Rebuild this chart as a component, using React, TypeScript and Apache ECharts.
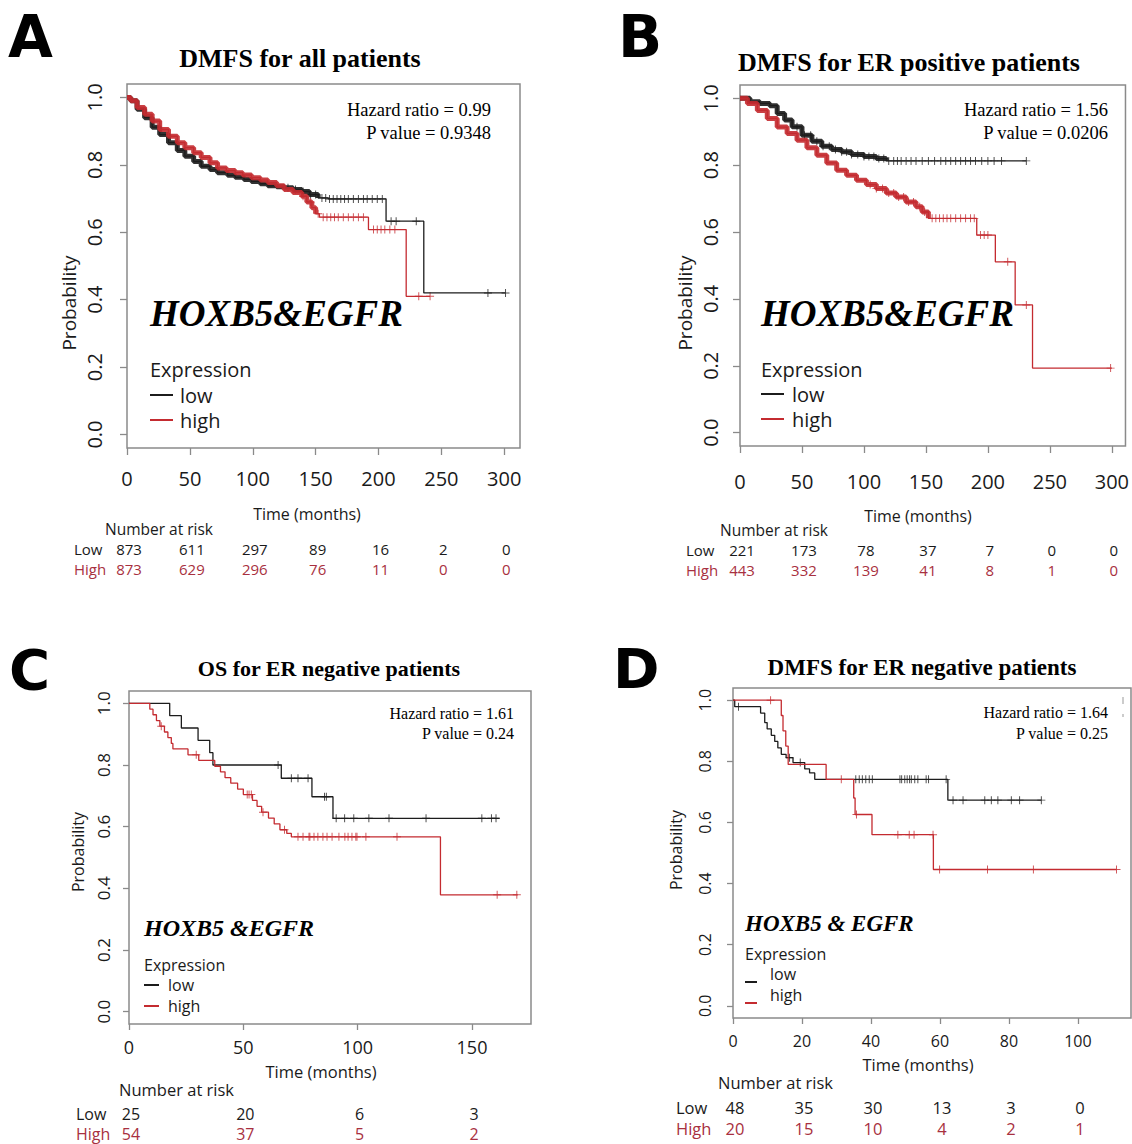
import React, { useEffect, useRef } from "react";
import * as echarts from "echarts";

// ===== Panel A: DMFS for all patients =====
const lowA_t = [0, 3, 8, 14, 20, 26, 33, 40, 46, 53, 59, 66, 72, 80, 86, 93, 99, 106, 112, 119, 125, 132, 139, 145, 152, 160, 206, 236, 301];
const lowA_s = [1.0, 0.99, 0.965, 0.94, 0.912, 0.89, 0.866, 0.843, 0.826, 0.81, 0.796, 0.786, 0.777, 0.769, 0.763, 0.757, 0.751, 0.744, 0.738, 0.735, 0.732, 0.727, 0.721, 0.712, 0.702, 0.699, 0.633, 0.42, 0.42];
const censA_low = [128, 134, 140, 146, 150, 155, 158, 161, 164, 167, 170, 173, 176, 180, 184, 188, 191, 195, 199, 203, 210, 214, 230, 287, 301];
const highA_t = [0, 3, 8, 14, 20, 26, 33, 40, 46, 53, 59, 66, 72, 79, 86, 92, 99, 106, 112, 119, 125, 132, 139, 143, 147, 150, 153, 192, 222, 241];
const highA_s = [1.0, 0.99, 0.97, 0.95, 0.93, 0.905, 0.885, 0.866, 0.851, 0.836, 0.822, 0.806, 0.791, 0.783, 0.777, 0.77, 0.762, 0.755, 0.748, 0.738, 0.727, 0.718, 0.707, 0.69, 0.673, 0.655, 0.645, 0.608, 0.41, 0.41];
const censA_high = [140, 146, 152, 156, 159, 162, 165, 168, 172, 176, 180, 184, 188, 196, 199, 202, 205, 209, 213, 232, 241];
const riskA_times = [0, 50, 100, 150, 200, 250, 300];
const riskA_low = [873, 611, 297, 89, 16, 2, 0];
const riskA_high = [873, 629, 296, 76, 11, 0, 0];

// ===== Panel B: DMFS for ER positive patients =====
const lowB_t = [0, 8, 16, 24, 30, 36, 42, 50, 58, 66, 74, 82, 90, 100, 110, 118, 231];
const lowB_s = [1.0, 0.99, 0.985, 0.978, 0.955, 0.935, 0.915, 0.89, 0.872, 0.857, 0.847, 0.84, 0.832, 0.826, 0.82, 0.813, 0.813];
const censB_low = [46, 52, 57, 62, 67, 72, 77, 82, 86, 90, 95, 100, 104, 108, 112, 116, 120, 124, 127, 130, 134, 138, 142, 147, 152, 157, 162, 166, 170, 174, 178, 182, 186, 190, 195, 200, 205, 211, 231];
const highB_t = [0, 6, 14, 22, 30, 38, 46, 54, 62, 70, 78, 86, 94, 102, 110, 118, 126, 134, 142, 147, 152, 191, 206, 222, 236, 300];
const highB_s = [1.0, 0.985, 0.964, 0.94, 0.914, 0.895, 0.875, 0.852, 0.83, 0.807, 0.785, 0.77, 0.755, 0.742, 0.73, 0.717, 0.705, 0.69, 0.676, 0.66, 0.641, 0.591, 0.511, 0.382, 0.193, 0.193];
const censB_high = [105, 110, 115, 120, 124, 128, 132, 136, 140, 145, 149, 155, 158, 161, 164, 167, 170, 174, 178, 182, 186, 189, 194, 197, 200, 216, 231, 299];
const riskB_times = [0, 50, 100, 150, 200, 250, 300];
const riskB_low = [221, 173, 78, 37, 7, 0, 0];
const riskB_high = [443, 332, 139, 41, 8, 1, 0];

// ===== Panel C: OS for ER negative patients =====
const lowC_t = [0, 17.8, 22.9, 30.2, 35.3, 36.7, 66.6, 80, 89.2, 162];
const lowC_s = [1, 0.96, 0.92, 0.88, 0.84, 0.8, 0.757, 0.697, 0.627, 0.627];
const censC_low = [65.2, 71, 73.9, 78.3, 85.5, 86.3, 90.6, 94.3, 98.3, 104.9, 113.7, 129.9, 154.3, 158.5, 160.5];
const highC_t = [0, 9.1, 10.5, 12, 13.5, 15.5, 17, 18.5, 19.2, 25.8, 30.5, 37.5, 40, 42, 44.5, 47.5, 50, 54, 56, 58, 61, 63.5, 66, 69, 71, 136.2, 170];
const highC_s = [1, 0.981, 0.963, 0.944, 0.926, 0.907, 0.889, 0.87, 0.852, 0.833, 0.815, 0.796, 0.778, 0.759, 0.741, 0.722, 0.704, 0.685, 0.666, 0.647, 0.628, 0.609, 0.59, 0.578, 0.567, 0.379, 0.379];
const censC_high = [14.1, 29.4, 51.7, 52.5, 53.5, 58.6, 68, 73.9, 76.1, 78.7, 79.1, 80.9, 82.6, 84.8, 86.6, 88.8, 91.8, 94.4, 95.8, 97.5, 99.2, 99.7, 103.6, 117.2, 161, 169.6];
const riskC_times = [0, 50, 100, 150];
const riskC_low = [25, 20, 6, 3];
const riskC_high = [54, 37, 5, 2];

// ===== Panel D: DMFS for ER negative patients =====
const lowD_t = [0, 0.5, 8, 9.2, 9.9, 11.1, 12.1, 13, 14, 15.4, 17.4, 20.8, 22.2, 23.7, 62.3, 89.4];
const lowD_s = [1, 0.979, 0.958, 0.927, 0.906, 0.885, 0.865, 0.844, 0.823, 0.812, 0.796, 0.775, 0.762, 0.741, 0.673, 0.673];
const censD_low = [1.6, 16.4, 19.5, 35.6, 36.6, 37.5, 38.5, 39.5, 40.4, 48.4, 48.9, 49.8, 50.5, 51.2, 51.7, 52.7, 53.6, 56, 56.7, 61.8, 63.8, 66.7, 73, 74.9, 76.8, 80.7, 83.1, 89.4];
const highD_t = [0, 14, 14.5, 15.3, 16, 27, 35, 35.4, 40.3, 58.1, 111.2];
const highD_s = [1, 0.95, 0.9, 0.85, 0.79, 0.741, 0.68, 0.626, 0.56, 0.446, 0.446];
const censD_high = [10.9, 31.4, 35.8, 47.8, 51.1, 52.5, 58, 59.9, 73.8, 87.1, 111.2];
const riskD_times = [0, 20, 40, 60, 80, 100];
const riskD_low = [48, 35, 30, 13, 3, 0];
const riskD_high = [20, 15, 10, 4, 2, 1];

const yTicks = [0, 0.2, 0.4, 0.6, 0.8, 1.0];

const RED = "#c42b30";
const BLACK = "#1c1c1c";
const BOX = "#8a8a8a";
const TXT = "#1a1a1a";
const RISK_RED = "#a83040";
const SANS = "'Open Sans', 'Noto Sans', 'DejaVu Sans', sans-serif";
const SERIF = "'Liberation Serif', 'DejaVu Serif', serif";
const LETTER = "'DejaVu Sans', 'Open Sans', sans-serif";
const CROSS = "path://M0,4.4H10V5.6H0Z M4.4,0H5.6V10H4.4Z";

const PANELS = [
  {
    letter: "A", title: "DMFS for all patients", hr: "Hazard ratio = 0.99", pv: "P value = 0.9348", gene: "HOXB5&EGFR",
    low: { t: lowA_t, s: lowA_s, c: censA_low, band: 152 },
    high: { t: highA_t, s: highA_s, c: censA_high, band: 150 },
    xMax: 312.5, xTicks: [0, 50, 100, 150, 200, 250, 300],
    risk: { times: riskA_times, low: riskA_low, high: riskA_high },
    L: {
      box: [127, 84, 393, 364], tickLen: 7, xFont: 20, yFont: 20, xMargin: 20, yMargin: 23, mark: 8,
      letter: [8, 37, 58], title: [300, 58, 26], hr: [491, 110, 133, 18.5], gene: [150, 313, 37],
      expr: { x: 150, y: 369, yl: 395, yh: 420, size: 20, len: 23, tx: 180, dy: 0 },
      time: [307, 514, 16], prob: [69, 303, 19], nar: [105, 529, 15.5], rows: [74, 549, 569, 15],
    },
  },
  {
    letter: "B", title: "DMFS for ER positive patients", hr: "Hazard ratio = 1.56", pv: "P value = 0.0206", gene: "HOXB5&EGFR",
    low: { t: lowB_t, s: lowB_s, c: censB_low, band: 120 },
    high: { t: highB_t, s: highB_s, c: censB_high, band: 152 },
    xMax: 311, xTicks: [0, 50, 100, 150, 200, 250, 300],
    risk: { times: riskB_times, low: riskB_low, high: riskB_high },
    L: {
      box: [740, 85, 389, 361], tickLen: 7, xFont: 20, yFont: 20, xMargin: 25, yMargin: 20, mark: 8,
      letter: [618, 37, 58], title: [909, 62, 26], hr: [1108, 110, 133, 18.5], gene: [761, 313, 37],
      expr: { x: 761, y: 369, yl: 394, yh: 419, size: 20, len: 23, tx: 792, dy: 0 },
      time: [918, 516, 16], prob: [685, 303, 19], nar: [720, 530, 15.5], rows: [686, 550, 570, 15],
    },
  },
  {
    letter: "C", title: "OS for ER negative patients", hr: "Hazard ratio = 1.61", pv: "P value = 0.24", gene: "HOXB5 &EGFR",
    low: { t: lowC_t, s: lowC_s, c: censC_low, band: -1 },
    high: { t: highC_t, s: highC_s, c: censC_high, band: -1 },
    xMax: 175.8, xTicks: [0, 50, 100, 150],
    risk: { times: riskC_times, low: riskC_low, high: riskC_high },
    L: {
      box: [129, 691, 402, 333], tickLen: 6, xFont: 18, yFont: 17, xMargin: 14, yMargin: 17, mark: 8,
      letter: [9, 669, 56], title: [329, 668, 22], hr: [514, 713, 733, 16], gene: [144, 928, 24],
      expr: { x: 144, y: 965, yl: 985, yh: 1006, size: 16, len: 15, tx: 168, dy: 0 },
      time: [321, 1071, 16.5], prob: [78, 852, 16], nar: [119, 1089, 16.5], rows: [76, 1114, 1134, 16],
    },
  },
  {
    letter: "D", title: "DMFS for ER negative patients", hr: "Hazard ratio = 1.64", pv: "P value = 0.25", gene: "HOXB5 & EGFR",
    low: { t: lowD_t, s: lowD_s, c: censD_low, band: -1 },
    high: { t: highD_t, s: highD_s, c: censD_high, band: -1 },
    xMax: 115.4, xTicks: [0, 20, 40, 60, 80, 100],
    risk: { times: riskD_times, low: riskD_low, high: riskD_high },
    L: {
      box: [733, 688, 398, 330], tickLen: 6, xFont: 16, yFont: 16, xMargin: 15, yMargin: 20, mark: 8,
      letter: [613, 668, 56], title: [922, 667, 23], hr: [1108, 712, 733, 16], gene: [745, 923, 23],
      expr: { x: 745, y: 954, yl: 974, yh: 995, size: 16, len: 12, tx: 770, dy: 8 },
      time: [918, 1064, 16.5], prob: [676, 850, 16], nar: [718, 1082, 16.5], rows: [676, 1107, 1128, 16.5],
    },
  },
];

function stepAt(ts: number[], ss: number[], t: number) {
  let v = ss[0];
  for (let i = 0; i < ts.length; i++) if (ts[i] <= t) v = ss[i];
  return v;
}

function T(x: number, y: number, text: string, o: any) {
  return {
    type: "text", x, y, rotation: o.rotate || 0, silent: true,
    style: {
      text, fill: o.fill || TXT, fontSize: o.size, fontFamily: o.family || SANS,
      fontWeight: o.weight || "normal", fontStyle: o.style || "normal", lineHeight: o.size,
      textAlign: o.align || "left", textVerticalAlign: "middle",
    },
  };
}
function Ln(x1: number, y1: number, x2: number, y2: number, stroke: string, w: number) {
  return { type: "line", silent: true, shape: { x1, y1, x2, y2 }, style: { stroke, lineWidth: w } };
}

export default function App() {
  const ref = useRef<HTMLDivElement>(null);
  useEffect(() => {
    if (!ref.current) return;
    const chart = echarts.init(ref.current, undefined, { renderer: "svg" });

    const grid: any[] = [];
    const xAxis: any[] = [];
    const yAxis: any[] = [];
    const series: any[] = [];

    PANELS.forEach((p, i) => {
      const L = p.L;
      grid.push({ left: L.box[0], top: L.box[1], width: L.box[2], height: L.box[3], show: true, borderColor: BOX, borderWidth: 1.5, backgroundColor: "transparent" });
      xAxis.push({
        type: "value", gridIndex: i, min: 0, max: p.xMax, position: "bottom",
        axisLine: { show: false, onZero: false },
        axisTick: { show: true, customValues: p.xTicks, length: L.tickLen, lineStyle: { color: BOX, width: 1.3 } },
        axisLabel: { show: true, customValues: p.xTicks, fontSize: L.xFont, color: TXT, fontFamily: SANS, margin: L.xMargin },
        splitLine: { show: false },
      });
      yAxis.push({
        type: "value", gridIndex: i, min: -0.04, max: 1.04, position: "left",
        axisLine: { show: false, onZero: false },
        axisTick: { show: true, customValues: yTicks, length: L.tickLen, lineStyle: { color: BOX, width: 1.3 } },
        axisLabel: { show: true, customValues: yTicks, fontSize: L.yFont, color: TXT, fontFamily: SANS, margin: L.yMargin, rotate: 90, formatter: (v: number) => Number(v).toFixed(1) },
        splitLine: { show: false },
      });
      [["low", BLACK], ["high", RED]].forEach(([k, col]) => {
        const g = (p as any)[k];
        const pts = g.t.map((t: number, j: number) => [t, g.s[j]]);
        if (g.band > 0) {
          series.push({
            type: "line", xAxisIndex: i, yAxisIndex: i, step: "end", showSymbol: false, silent: true,
            lineStyle: { color: col, width: 5, opacity: 0.9 },
            data: pts.filter((d: number[]) => d[0] <= g.band),
          });
        }
        series.push({
          type: "line", xAxisIndex: i, yAxisIndex: i, step: "end", showSymbol: false, silent: true,
          lineStyle: { color: col, width: 1.3 }, data: pts,
        });
        series.push({
          type: "scatter", xAxisIndex: i, yAxisIndex: i, symbol: CROSS, symbolSize: L.mark, silent: true,
          itemStyle: { color: col }, data: g.c.map((c: number) => [c, stepAt(g.t, g.s, c)]),
        });
      });
    });

    chart.setOption({ animation: false, backgroundColor: "#ffffff", grid, xAxis, yAxis, series });

    const els: any[] = [];
    PANELS.forEach((p, i) => {
      const L = p.L;
      els.push(T(L.letter[0], L.letter[1], p.letter, { size: L.letter[2], family: LETTER, weight: "bold", fill: "#000" }));
      els.push(T(L.title[0], L.title[1], p.title, { size: L.title[2], family: SERIF, weight: "bold", align: "center", fill: "#000" }));
      els.push(T(L.hr[0], L.hr[1], p.hr, { size: L.hr[3], family: SERIF, align: "right", fill: "#000" }));
      els.push(T(L.hr[0], L.hr[2], p.pv, { size: L.hr[3], family: SERIF, align: "right", fill: "#000" }));
      els.push(T(L.gene[0], L.gene[1], p.gene, { size: L.gene[2], family: SERIF, weight: "bold", style: "italic", fill: "#000" }));
      const e = L.expr;
      els.push(T(e.x, e.y, "Expression", { size: e.size }));
      els.push(Ln(e.x, e.yl + e.dy, e.x + e.len, e.yl + e.dy, BLACK, 2));
      els.push(T(e.tx, e.yl, "low", { size: e.size }));
      els.push(Ln(e.x, e.yh + e.dy, e.x + e.len, e.yh + e.dy, RED, 2));
      els.push(T(e.tx, e.yh, "high", { size: e.size }));
      els.push(T(L.time[0], L.time[1], "Time (months)", { size: L.time[2], align: "center" }));
      els.push(T(L.prob[0], L.prob[1], "Probability", { size: L.prob[2], align: "center", rotate: Math.PI / 2 }));
      els.push(T(L.nar[0], L.nar[1], "Number at risk", { size: L.nar[2] }));
      els.push(T(L.rows[0], L.rows[1], "Low", { size: L.rows[3] }));
      els.push(T(L.rows[0], L.rows[2], "High", { size: L.rows[3], fill: RISK_RED }));
      p.risk.times.forEach((t, j) => {
        const x = chart.convertToPixel({ xAxisIndex: i }, t) as number;
        els.push(T(x + 2, L.rows[1], String(p.risk.low[j]), { size: L.rows[3], align: "center" }));
        els.push(T(x + 2, L.rows[2], String(p.risk.high[j]), { size: L.rows[3], align: "center", fill: RISK_RED }));
      });
    });
    // small broken mark at right of panel D's statistics
    els.push(Ln(1123, 697, 1123, 704, "#999", 1));
    els.push(Ln(1123, 714, 1123, 717, "#999", 1));

    chart.setOption({ graphic: [{ elements: els }] });

    return () => chart.dispose();
  }, []);
  return <div ref={ref} style={{ position: "absolute", left: 0, top: 0, width: 1132, height: 1144, background: "#fff" }} />;
}
